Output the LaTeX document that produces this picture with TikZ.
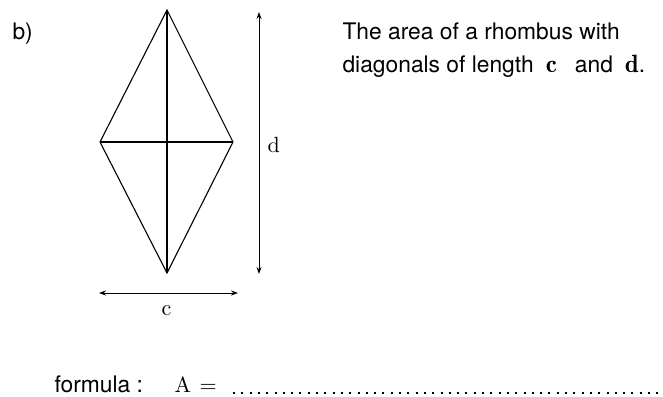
\documentclass[tikz,border=0pt]{standalone}
\usepackage{fontspec}
\setsansfont{TeX Gyre Heros}
\newfontfamily\lmr{lmroman10-regular}[Extension=.otf]
\newfontfamily\lmd{lmromandemi10-regular}[Extension=.otf]
\usetikzlibrary{arrows.meta}
\begin{document}
\begin{tikzpicture}[x=1pt,y=-1pt,line width=1.1pt,
  txt/.style={font=\sffamily\fontsize{22.8}{32}\selectfont, inner sep=0, anchor=base west},
  lab/.style={font=\lmr\fontsize{22}{26}\selectfont, inner sep=0, anchor=base west},
  dim/.style={{Stealth[length=7pt,width=5pt]}-{Stealth[length=7pt,width=5pt]}, line width=0.9pt}]
\useasboundingbox (0,0) rectangle (663,396);
\coordinate (T) at (167,10);
\coordinate (B) at (167,273);
\coordinate (L) at (100,142);
\coordinate (R) at (233,142);
\draw[line join=miter] (T) -- (R) -- (B) -- (L) -- cycle;
\draw (L) -- (R);
\draw (T) -- (B);
\coordinate (d1) at (259,12);
\coordinate (d2) at (259,274);
\draw[dim] (d1) -- (d2);
\node[lab] (dl) at (267,152) {d};
\coordinate (c1) at (99,293);
\coordinate (c2) at (238,293);
\draw[dim] (c1) -- (c2);
\node[lab] (cl) at (161,315) {c};
\node[txt] (b) at (12,40) {b)};
\node[txt] (t1) at (342,40) {The area of a rhombus with};
\node[txt] (t2) at (342,72) {diagonals of length\hspace{12pt}{\lmd\fontsize{25}{32}\selectfont c}\hspace{18pt}and\hspace{12pt}{\lmd\fontsize{25}{32}\selectfont d}.};
\node[txt] (f) at (54,392.5) {formula :};
\node[lab] (A) at (174,392.5) {A};
\node[lab] (eq) at (199,392.5) {=};
\coordinate (p1) at (233,392.5);
\coordinate (p2) at (663,392.5);
\draw[line width=2pt, dash pattern=on 2pt off 6.3pt] (p1) -- (p2);
\end{tikzpicture}
\end{document}
